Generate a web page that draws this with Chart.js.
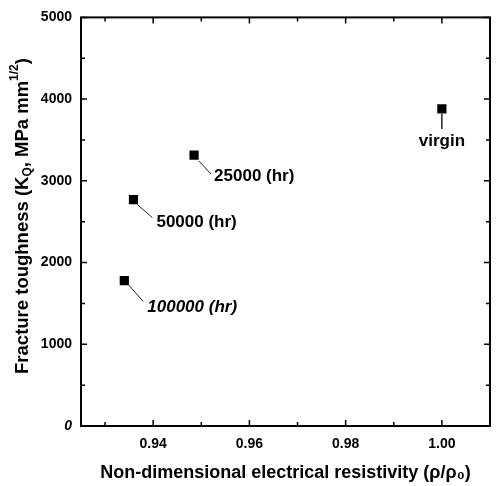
<!DOCTYPE html>
<html>
<head>
<meta charset="utf-8">
<script src="https://cdn.jsdelivr.net/npm/chart.js@4.4.1/dist/chart.umd.min.js"></script>
<style>
  html, body { margin: 0; padding: 0; background: #fff; }
</style>
</head>
<body>
<canvas id="chart" width="498" height="486"></canvas>
<script>
// data
const resistivity = [1.00, 0.9485, 0.9359, 0.9340];
const toughness = [3880, 3315, 2770, 1780];
const pointLabels = ['virgin', '25000 (hr)', '50000 (hr)', '100000 (hr)'];

const xTicks = [0.94, 0.96, 0.98, 1.00];
const xMinorTicks = [0.93, 0.95, 0.97, 0.99, 1.01];
const yTicks = [0, 1000, 2000, 3000, 4000, 5000];
const yMinorTicks = [500, 1500, 2500, 3500, 4500];

const FONT = '"Liberation Sans", Arial, Helvetica, sans-serif';

// where each label sits relative to its marker (pixels)
const labelStyle = [
  { line: [0, 5, 0, 20], lineWidth: 1.5, dx: 0, dy: 32, align: 'center', italic: false },
  { line: [5, 6, 17, 19], lineWidth: 1, dx: 20, dy: 21, align: 'left', italic: false },
  { line: [4, 5, 19, 18], lineWidth: 1, dx: 23, dy: 23, align: 'left', italic: false },
  { line: [4, 4, 19, 21], lineWidth: 1, dx: 23, dy: 27, align: 'left', italic: true }
];

// frame with inward ticks on all four sides
const framePlugin = {
  id: 'frame',
  afterDatasetsDraw(chart) {
    const ctx = chart.ctx;
    const a = chart.chartArea;
    const x = chart.scales.x, y = chart.scales.y;
    ctx.save();
    ctx.strokeStyle = '#000';
    ctx.lineWidth = 2;
    ctx.strokeRect(a.left, a.top, a.right - a.left, a.bottom - a.top);
    ctx.lineWidth = 1.5;
    function xTick(v, len) {
      const px = x.getPixelForValue(v);
      ctx.beginPath();
      ctx.moveTo(px, a.bottom); ctx.lineTo(px, a.bottom - len);
      ctx.moveTo(px, a.top); ctx.lineTo(px, a.top + len);
      ctx.stroke();
    }
    function yTick(v, len) {
      const py = y.getPixelForValue(v);
      ctx.beginPath();
      ctx.moveTo(a.left, py); ctx.lineTo(a.left + len, py);
      ctx.moveTo(a.right, py); ctx.lineTo(a.right - len, py);
      ctx.stroke();
    }
    xTicks.forEach(v => xTick(v, 6));
    xMinorTicks.forEach(v => xTick(v, 4));
    yTicks.forEach(v => yTick(v, 6));
    yMinorTicks.forEach(v => yTick(v, 4));
    ctx.restore();
  }
};

// labels and leader lines next to the points
const labelPlugin = {
  id: 'pointLabels',
  afterDatasetsDraw(chart) {
    const ctx = chart.ctx;
    const pts = chart.getDatasetMeta(0).data;
    ctx.save();
    ctx.fillStyle = '#000';
    ctx.strokeStyle = '#222';
    ctx.textBaseline = 'middle';
    pts.forEach((p, i) => {
      const s = labelStyle[i];
      ctx.lineWidth = s.lineWidth;
      ctx.beginPath();
      ctx.moveTo(p.x + s.line[0], p.y + s.line[1]);
      ctx.lineTo(p.x + s.line[2], p.y + s.line[3]);
      ctx.stroke();
      ctx.font = (s.italic ? 'italic ' : '') + 'bold 17px ' + FONT;
      ctx.textAlign = s.align;
      ctx.fillText(pointLabels[i], p.x + s.dx, p.y + s.dy);
    });
    ctx.restore();
  }
};

// y axis title with subscript Q and superscript 1/2
const yTitlePlugin = {
  id: 'yTitle',
  afterDraw(chart) {
    const ctx = chart.ctx;
    const big = 'bold 18.5px ' + FONT;
    const small = 'bold 12px ' + FONT;
    const parts = [
      { t: 'Fracture toughness (K', f: big, dy: 0 },
      { t: 'Q', f: small, dy: 5 },
      { t: ', MPa mm', f: big, dy: 0 },
      { t: '1/2', f: small, dy: -8 },
      { t: ')', f: big, dy: 0 }
    ];
    ctx.save();
    let total = 0;
    parts.forEach(p => { ctx.font = p.f; p.w = ctx.measureText(p.t).width; total += p.w; });
    ctx.translate(23, 216);
    ctx.rotate(-Math.PI / 2);
    ctx.fillStyle = '#000';
    ctx.textBaseline = 'middle';
    ctx.textAlign = 'left';
    let cx = -total / 2;
    parts.forEach(p => {
      ctx.font = p.f;
      ctx.fillText(p.t, cx, p.dy);
      cx += p.w;
    });
    ctx.restore();
  }
};

new Chart(document.getElementById('chart'), {
  type: 'scatter',
  data: {
    datasets: [{
      data: resistivity.map((r, i) => ({ x: r, y: toughness[i] })),
      pointStyle: 'rect',
      radius: 6.5,
      backgroundColor: '#000',
      borderColor: '#000',
      borderWidth: 0
    }]
  },
  options: {
    responsive: false,
    animation: false,
    events: [],
    layout: { padding: { top: 13, right: 8, left: 0, bottom: 0 } },
    plugins: { legend: { display: false }, tooltip: { enabled: false } },
    scales: {
      x: {
        type: 'linear',
        min: 0.925,
        max: 1.01,
        afterBuildTicks: s => { s.ticks = xTicks.map(v => ({ value: v })); },
        afterFit: s => { s.height = 60; },
        grid: { display: false, drawTicks: false },
        border: { display: false },
        ticks: {
          padding: 10,
          color: '#000',
          font: { family: FONT, size: 14, weight: 'bold' },
          callback: v => v.toFixed(2)
        },
        title: {
          display: true,
          text: 'Non-dimensional electrical resistivity (ρ/ρ₀)',
          color: '#000',
          font: { family: FONT, size: 18, weight: 'bold' },
          padding: { top: 0, bottom: 2 }
        }
      },
      y: {
        type: 'linear',
        min: 0,
        max: 5000,
        afterBuildTicks: s => { s.ticks = yTicks.map(v => ({ value: v })); },
        afterFit: s => { s.width = 81; },
        grid: { display: false, drawTicks: false },
        border: { display: false },
        ticks: {
          padding: 9,
          color: '#000',
          font: ctx => ({ family: FONT, size: 14, weight: 'bold', style: ctx.tick && ctx.tick.value === 0 ? 'italic' : 'normal' }),
          callback: v => String(v)
        }
      }
    }
  },
  plugins: [framePlugin, labelPlugin, yTitlePlugin]
});
</script>
</body>
</html>
